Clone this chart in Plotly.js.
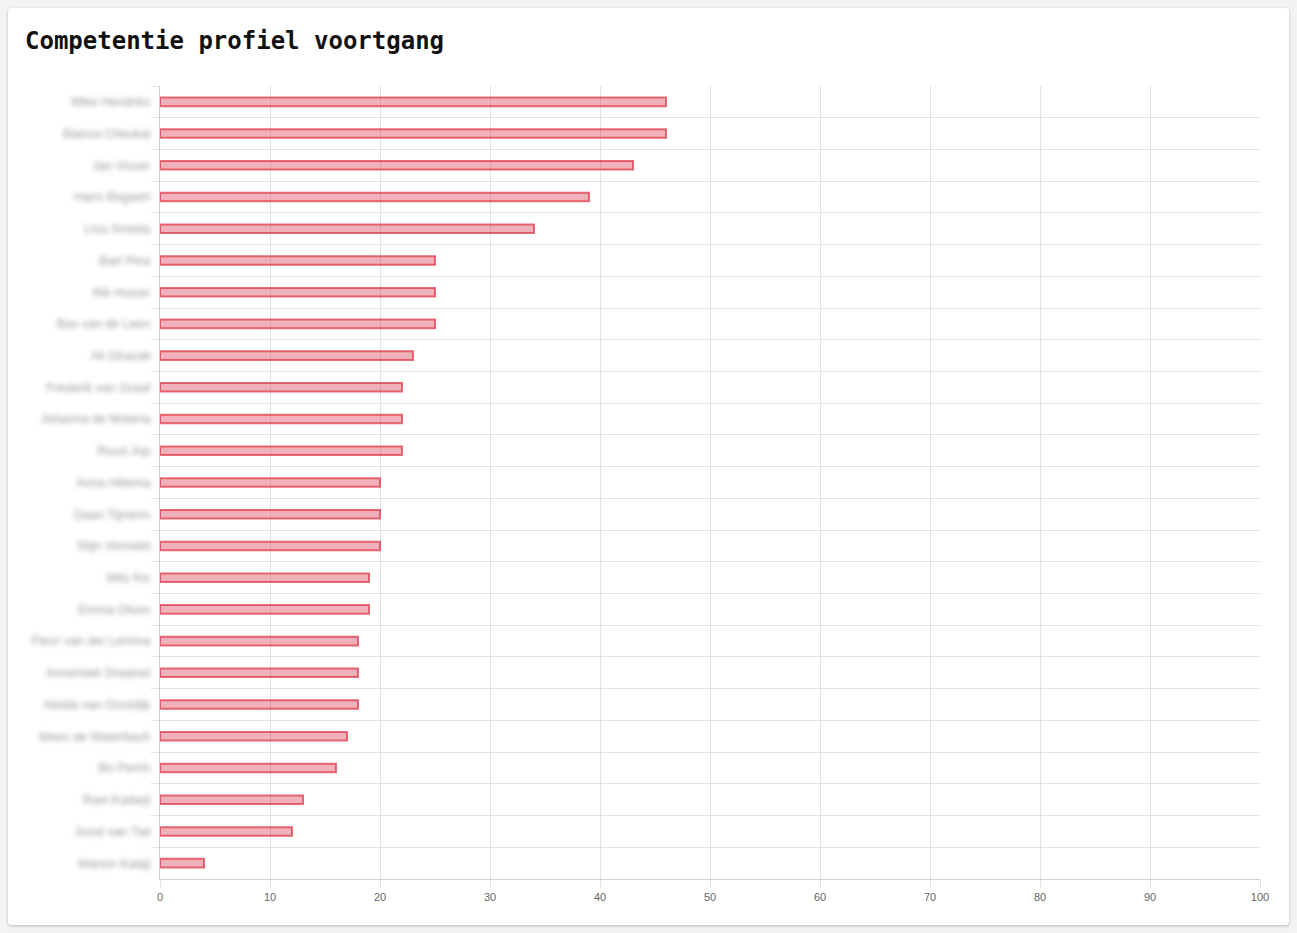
<!DOCTYPE html>
<html>
<head>
<meta charset="utf-8">
<script src="https://cdn.plot.ly/plotly-3.0.1.min.js"></script>
<style>
  html, body { margin: 0; padding: 0; background: #f4f3f1; width: 1297px; height: 933px; overflow: hidden; }
  #card { position: absolute; left: 8px; top: 8px; width: 1281px; height: 917px; background: #fff;
          border-radius: 4px; box-shadow: 0 1px 3px rgba(0,0,0,0.25); overflow: hidden; }
  #chart { width: 1281px; height: 917px; }
  .ytick text { filter: blur(2.8px); }
</style>
</head>
<body>
<div id="card"><div id="chart"></div></div>
<script>
const names = [
  "Mike Hendrikx", "Bianca Cheukai", "Jan Visser", "Hans Bogaert", "Lisa Smeda",
  "Bart Pina", "Rik Huiser", "Bas van de Leen", "Ali Ghazali", "Frederik van Graaf",
  "Johanna de Molena", "Ruud Jop", "Anna Hillema", "Daan Tijmens", "Stijn Vermeld",
  "Milo Kic", "Emma Olsen", "Fleur van der Lemma", "Annemiek Draaisel", "Aleida van Oostdijk",
  "Mees de Waterbach", "Bo Perrin", "Ravi Kadarji", "Joost van Tiel", "Manon Kalaji"
];
const progress = [46, 46, 43, 39, 34, 25, 25, 25, 23, 22, 22, 22, 20, 20, 20, 19, 19, 18, 18, 18, 17, 16, 13, 12, 4];
const xTicks = [0, 10, 20, 30, 40, 50, 60, 70, 80, 90, 100];
const titleText = "Competentie profiel voortgang";

const grid = "#e2e2e2";

Plotly.newPlot("chart", [{
  type: "bar",
  orientation: "h",
  x: progress,
  y: names,
  width: 0.27,
  marker: { color: "rgba(222,70,90,0.42)", line: { color: "rgba(220,53,69,0.72)", width: 2 } },
  hoverinfo: "none"
}], {
  width: 1281, height: 917,
  paper_bgcolor: "#ffffff", plot_bgcolor: "#ffffff",
  margin: { l: 152, r: 29, t: 78, b: 46 },
  showlegend: false,
  title: {
    text: titleText,
    font: { family: "DejaVu Sans Mono, monospace", size: 24, color: "#111", weight: 600 },
    xref: "container", yref: "container", x: 17 / 1281, xanchor: "left",
    y: 1 - 33 / 917, yanchor: "middle"
  },
  xaxis: {
    range: [0, 100], tickvals: xTicks, ticktext: xTicks.map(String),
    showgrid: true, gridcolor: grid, gridwidth: 1, zeroline: false,
    showline: true, linecolor: "#cfcfcf", linewidth: 1,
    ticks: "outside", ticklen: 8, tickcolor: grid,
    tickfont: { family: "Liberation Sans, Arial, sans-serif", size: 11, color: "#666666" },
    fixedrange: true
  },
  yaxis: {
    type: "category", categoryorder: "array", categoryarray: names,
    autorange: "reversed", tickson: "boundaries",
    showgrid: true, gridcolor: grid, gridwidth: 1, zeroline: false,
    showline: true, linecolor: "#cfcfcf", linewidth: 1,
    ticks: "outside", ticklen: 8, tickcolor: grid,
    ticklabelstandoff: 6,
    tickfont: { family: "Liberation Sans, Arial, sans-serif", size: 12.5, color: "#9a9a9a" },
    fixedrange: true
  },
  bargap: 0.7
}, { displayModeBar: false, staticPlot: true });
</script>
</body>
</html>
